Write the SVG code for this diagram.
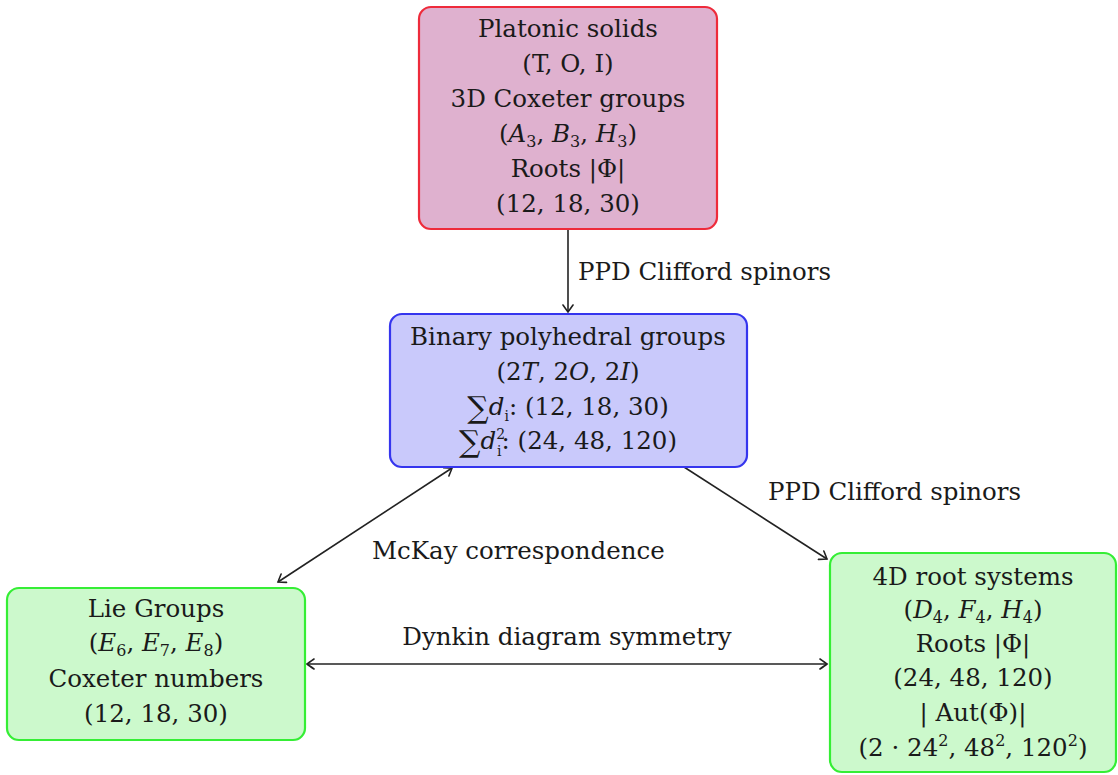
<svg xmlns="http://www.w3.org/2000/svg" width="1118" height="775" viewBox="0 0 1118 775">
<style>
text{font-family:"DejaVu Serif","Liberation Serif",serif;font-size:24.5px;fill:#1a1a1a;text-anchor:middle}
.lbl{text-anchor:start}
.i{font-style:italic}
.s{font-size:16px}
.t{font-size:14px}
.sum{font-size:30px}
.box{stroke-width:2.2}
.edge{fill:none;stroke:#222;stroke-width:1.6}
</style>
<defs>
<marker id="ah" viewBox="-8 -6 10 12" markerWidth="10" markerHeight="12" refX="0" refY="0" orient="auto-start-reverse" markerUnits="userSpaceOnUse">
<path d="M-7,-5 Q-2,-1.5 0,0 Q-2,1.5 -7,5" fill="none" stroke="#222" stroke-width="1.6" stroke-linecap="round"/>
</marker>
</defs>
<g id="edges">
<line class="edge" x1="568" y1="230" x2="568" y2="312" marker-end="url(#ah)"/>
<line class="edge" x1="684" y1="467" x2="827" y2="559" marker-end="url(#ah)"/>
<line class="edge" x1="452" y1="468" x2="278" y2="582" marker-start="url(#ah)" marker-end="url(#ah)"/>
<line class="edge" x1="307" y1="664" x2="827" y2="664" marker-start="url(#ah)" marker-end="url(#ah)"/>
<text class="lbl" x="578" y="280">PPD Clifford spinors</text>
<text class="lbl" x="768" y="500">PPD Clifford spinors</text>
<text class="lbl" x="372" y="559">McKay correspondence</text>
<text x="567" y="645">Dynkin diagram symmetry</text>
</g>
<g id="platonic">
<rect class="box" x="419" y="7" width="298" height="222" rx="12" fill="#dfb1cf" stroke="#ee2b3b"/>
<text x="568" y="37">Platonic solids</text>
<text x="568" y="72">(T, O, I)</text>
<text x="568" y="107">3D Coxeter groups</text>
<text x="568" y="142">(<tspan class="i">A</tspan><tspan class="s" dy="5">3</tspan><tspan dy="-5">, </tspan><tspan class="i">B</tspan><tspan class="s" dy="5">3</tspan><tspan dy="-5">, </tspan><tspan class="i">H</tspan><tspan class="s" dy="5">3</tspan><tspan dy="-5">)</tspan></text>
<text x="568" y="177">Roots |Φ|</text>
<text x="568" y="212">(12, 18, 30)</text>
</g>
<g id="binary">
<rect class="box" x="390" y="314" width="357" height="153" rx="12" fill="#c9c9fb" stroke="#3535ee"/>
<text x="568" y="345">Binary polyhedral groups</text>
<text x="568" y="380">(2<tspan class="i">T</tspan>, 2<tspan class="i">O</tspan>, 2<tspan class="i">I</tspan>)</text>
<text x="568" y="415"><tspan class="sum" dy="3">∑</tspan><tspan class="i" dy="-3">d</tspan><tspan class="t" dy="6">i</tspan><tspan dy="-6">:  (12, 18, 30)</tspan></text>
<text x="568" y="449"><tspan class="sum" dy="3">∑</tspan><tspan class="i" dy="-3">d</tspan><tspan class="t" dy="-10">2</tspan><tspan class="t" dx="-8" dy="17">i</tspan><tspan dy="-7">:  (24, 48, 120)</tspan></text>
</g>
<g id="lie">
<rect class="box" x="7" y="588" width="298" height="152" rx="12" fill="#ccf9cc" stroke="#35ee35"/>
<text x="156" y="617">Lie Groups</text>
<text x="156" y="651">(<tspan class="i">E</tspan><tspan class="s" dy="5">6</tspan><tspan dy="-5">, </tspan><tspan class="i">E</tspan><tspan class="s" dy="5">7</tspan><tspan dy="-5">, </tspan><tspan class="i">E</tspan><tspan class="s" dy="5">8</tspan><tspan dy="-5">)</tspan></text>
<text x="156" y="687">Coxeter numbers</text>
<text x="156" y="722">(12, 18, 30)</text>
</g>
<g id="root4d">
<rect class="box" x="830" y="553" width="286" height="219" rx="12" fill="#ccf9cc" stroke="#35ee35"/>
<text x="973" y="585">4D root systems</text>
<text x="973" y="618">(<tspan class="i">D</tspan><tspan class="s" dy="5">4</tspan><tspan dy="-5">, </tspan><tspan class="i">F</tspan><tspan class="s" dy="5">4</tspan><tspan dy="-5">, </tspan><tspan class="i">H</tspan><tspan class="s" dy="5">4</tspan><tspan dy="-5">)</tspan></text>
<text x="973" y="652">Roots |Φ|</text>
<text x="973" y="686">(24, 48, 120)</text>
<text x="973" y="721">| Aut(Φ)|</text>
<text x="973" y="756">(2 · 24<tspan class="s" dy="-10">2</tspan><tspan dy="10">, 48</tspan><tspan class="s" dy="-10">2</tspan><tspan dy="10">, 120</tspan><tspan class="s" dy="-10">2</tspan><tspan dy="10">)</tspan></text>
</g>
</svg>
